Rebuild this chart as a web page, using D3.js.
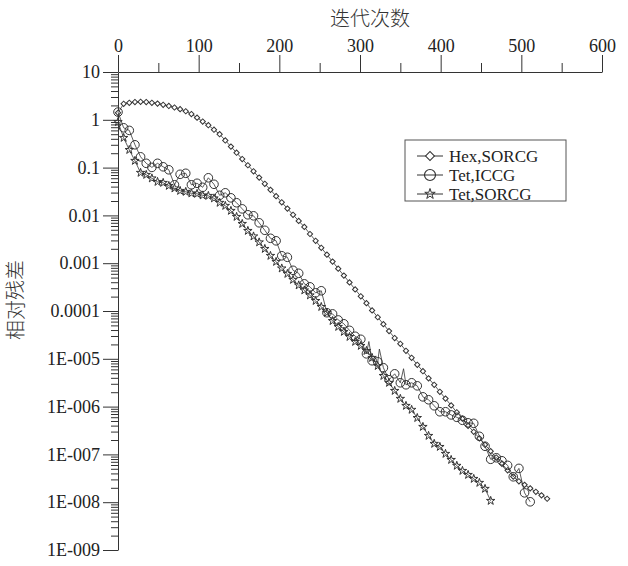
<!DOCTYPE html>
<html>
<head>
<meta charset="utf-8">
<script src="https://cdn.jsdelivr.net/npm/d3@7"></script>
<style>
  body { margin: 0; background: #fff; }
</style>
</head>
<body>
<svg id="chart" width="628" height="566"></svg>
<script>
// iterations (every 7th)
var iters = [0, 7, 14, 21, 28, 35, 42, 49, 56, 63, 70, 77, 84, 91, 98, 105, 112, 119, 126, 133,
  140, 147, 154, 161, 168, 175, 182, 189, 196, 203, 210, 217, 224, 231, 238, 245, 252, 259, 266, 273,
  280, 287, 294, 301, 308, 315, 322, 329, 336, 343, 350, 357, 364, 371, 378, 385, 392, 399, 406, 413,
  420, 427, 434, 441, 448, 455, 462, 469, 476, 483, 490, 497, 504, 511, 518, 525, 532];

var hexVal = [1.40, 2.16, 2.27, 2.35, 2.38, 2.35, 2.27, 2.18, 2.06, 1.95, 1.81, 1.67, 1.51, 1.32, 1.11,
  0.92, 0.77, 0.62, 0.50, 0.37, 0.275, 0.205, 0.151, 0.112, 0.0837, 0.0618, 0.0458, 0.0342, 0.0253,
  0.0188, 0.0139, 0.0103, 0.00767, 0.00574, 0.00408, 0.00294, 0.00210, 0.00151, 0.00108, 7.7e-4,
  5.5e-4, 3.96e-4, 2.83e-4, 2.03e-4, 1.46e-4, 1.03e-4, 7.4e-5, 5.3e-5, 3.8e-5, 2.72e-5, 2.06e-5,
  1.47e-5, 1.05e-5, 7.5e-6, 5.5e-6, 3.9e-6, 2.86e-6, 2.04e-6, 1.47e-6, 1.06e-6, 7.6e-7, 5.6e-7,
  3.96e-7, 2.97e-7, 2.17e-7, 1.59e-7, 1.17e-7, 8.6e-8, 6.35e-8, 4.65e-8, 3.43e-8, 2.74e-8, 2.31e-8,
  1.95e-8, 1.65e-8, 1.39e-8, 1.18e-8];

var iccgVal = [1.45, 0.68, 0.60, 0.30, 0.168, 0.123, 0.101, 0.123, 0.104, 0.090, 0.0437, 0.0724,
  0.076, 0.0437, 0.047, 0.0387, 0.0612, 0.0448, 0.0263, 0.0297, 0.0233, 0.0184, 0.0137, 0.0103,
  0.0098, 0.0070, 0.00488, 0.00332, 0.00294, 0.00143, 0.00133, 7.1e-4, 6.15e-4, 3.7e-4, 3.2e-4,
  2.40e-4, 2.65e-4, 9.2e-5, 8.7e-5, 6.5e-5, 5.4e-5, 3.94e-5, 2.96e-5, 2.56e-5, 1.27e-5, 9.1e-6,
  8.65e-6, 6.5e-6, 3.64e-6, 4.85e-6, 3.15e-6, 2.86e-6, 3.15e-6, 2.72e-6, 1.60e-6, 1.39e-6, 1.04e-6,
  7.8e-7, 7.8e-7, 6.7e-7, 5.97e-7, 5.17e-7, 4.58e-7, 4.47e-7, 2.39e-7, 1.48e-7, 7.9e-8, 8.5e-8,
  7.35e-8, 5.9e-8, 3.4e-8, 5.1e-8, 1.57e-8, 1.02e-8];

// thin spikes of the ICCG line between markers
var iccgSpikes = [[311, 2.3e-5], [324, 1.6e-5], [354, 6.2e-6]];

var tetVal = [0.9, 0.42, 0.235, 0.139, 0.078, 0.0707, 0.0597, 0.0504, 0.0481, 0.0416, 0.0369, 0.0327,
  0.0312, 0.029, 0.0283, 0.0263, 0.0257, 0.0228, 0.0184, 0.0159, 0.0125, 0.00935, 0.00667, 0.00476,
  0.00365, 0.00274, 0.0020, 0.00143, 0.00107, 7.8e-4, 6.0e-4, 4.5e-4, 3.45e-4, 2.71e-4, 2.13e-4,
  1.63e-4, 1.22e-4, 9.2e-5, 6.2e-5, 4.67e-5, 3.67e-5, 2.88e-5, 2.27e-5, 1.87e-5, 1.47e-5, 1.05e-5,
  7.1e-6, 4.4e-6, 3.15e-6, 2.14e-6, 1.46e-6, 1.04e-6, 8.6e-7, 5.8e-7, 3.78e-7, 2.45e-7, 1.67e-7,
  1.44e-7, 1.03e-7, 7.7e-8, 5.8e-8, 4.54e-8, 3.74e-8, 3.09e-8, 2.55e-8, 1.91e-8, 1.07e-8];

var seriesNames = ["Hex,SORCG", "Tet,ICCG", "Tet,SORCG"];
var xTicks = [0, 100, 200, 300, 400, 500, 600];
var xMinor = [50, 150, 250, 350, 450, 550];
var yTicks = [10, 1, 0.1, 0.01, 0.001, 0.0001, 1e-5, 1e-6, 1e-7, 1e-8, 1e-9];
var yLabels = ["10", "1", "0.1", "0.01", "0.001", "0.0001", "1E-005", "1E-006", "1E-007", "1E-008", "1E-009"];

var svg = d3.select("#chart");
var ink = "#333";
var serif = "'Liberation Serif', 'Times New Roman', serif";

var x = d3.scaleLinear().domain([0, 600]).range([118, 602]);
var y = d3.scaleLog().domain([1e-9, 10]).range([550, 72]);

// top x axis
svg.append("g")
  .attr("class", "axis")
  .attr("transform", "translate(0,72)")
  .call(d3.axisTop(x).tickValues(xTicks).tickSize(17).tickSizeOuter(0).tickPadding(3));
svg.append("g")
  .attr("transform", "translate(0,72)")
  .call(d3.axisTop(x).tickValues(xMinor).tickSize(9).tickFormat(""))
  .select(".domain").remove();

// left log axis
var yMinor = [];
yTicks.slice(1).forEach(function(t) {
  for (var m = 2; m <= 9; m++) yMinor.push(t * m);
});
svg.append("g")
  .attr("class", "axis")
  .attr("transform", "translate(118,0)")
  .call(d3.axisLeft(y).tickValues(yTicks).tickSize(15).tickSizeOuter(0).tickPadding(3)
    .tickFormat(function(d, i) { return yLabels[i]; }));
svg.append("g")
  .attr("transform", "translate(118,0)")
  .call(d3.axisLeft(y).tickValues(yMinor).tickSize(7).tickFormat(""))
  .select(".domain").remove();

svg.selectAll(".domain, .tick line").attr("stroke", ink);
svg.selectAll(".axis")
  .attr("font-family", null).attr("font-size", null);
svg.selectAll(".axis .tick text")
  .style("font-family", serif)
  .style("font-size", "18px")
  .attr("fill", "#222");

// axis titles
svg.append("text")
  .attr("x", 370).attr("y", 26)
  .attr("text-anchor", "middle")
  .style("font-family", "'Noto Sans CJK SC', sans-serif")
  .style("font-size", "20px").style("font-weight", 300)
  .attr("fill", ink)
  .text("迭代次数");
svg.append("text")
  .attr("transform", "translate(23,300) rotate(-90)")
  .attr("text-anchor", "middle")
  .style("font-family", "'Noto Sans CJK SC', sans-serif")
  .style("font-size", "20px").style("font-weight", 300)
  .attr("fill", ink)
  .text("相对残差");

function pairs(vals) {
  return vals.map(function(v, i) { return [iters[i], v]; });
}
var hex = pairs(hexVal);
var iccg = pairs(iccgVal);
var tet = pairs(tetVal);
var iccgLine = iccg.concat(iccgSpikes).sort(function(a, b) { return a[0] - b[0]; });

var line = d3.line()
  .x(function(d) { return x(d[0]); })
  .y(function(d) { return y(d[1]); });

var diamond = d3.symbol(d3.symbolSquare, 14);
var star = d3.symbol(d3.symbolStar, 22);

function drawLine(data) {
  svg.append("path").datum(data)
    .attr("d", line)
    .attr("fill", "none")
    .attr("stroke", ink)
    .attr("stroke-width", 0.8);
}

drawLine(hex);
svg.append("g").selectAll("path").data(hex).enter().append("path")
  .attr("d", diamond)
  .attr("transform", function(d) { return "translate(" + x(d[0]) + "," + y(d[1]) + ") rotate(45)"; })
  .attr("fill", "#fff").attr("stroke", ink).attr("stroke-width", 1);

drawLine(iccgLine);
svg.append("g").selectAll("circle").data(iccg).enter().append("circle")
  .attr("cx", function(d) { return x(d[0]); })
  .attr("cy", function(d) { return y(d[1]); })
  .attr("r", 4.3)
  .attr("fill", "none").attr("stroke", ink).attr("stroke-width", 1);

drawLine(tet);
svg.append("g").selectAll("path").data(tet).enter().append("path")
  .attr("d", star)
  .attr("transform", function(d) { return "translate(" + x(d[0]) + "," + y(d[1]) + ")"; })
  .attr("fill", "none").attr("stroke", ink).attr("stroke-width", 1);

// legend
var lg = svg.append("g");
lg.append("rect")
  .attr("x", 405).attr("y", 140).attr("width", 161).attr("height", 61)
  .attr("fill", "#fff").attr("stroke", "#555").attr("stroke-width", 1);
var rowY = [156, 175, 194];
seriesNames.forEach(function(name, i) {
  var yy = rowY[i];
  lg.append("line").attr("x1", 417).attr("x2", 443).attr("y1", yy).attr("y2", yy)
    .attr("stroke", ink).attr("stroke-width", 1);
  if (i === 0) {
    lg.append("path").attr("d", d3.symbol(d3.symbolSquare, 40))
      .attr("transform", "translate(430," + yy + ") rotate(45)")
      .attr("fill", "#fff").attr("stroke", ink);
  } else if (i === 1) {
    lg.append("circle").attr("cx", 430).attr("cy", yy).attr("r", 5.5)
      .attr("fill", "none").attr("stroke", ink).attr("stroke-width", 1.2);
  } else {
    lg.append("path").attr("d", d3.symbol(d3.symbolStar, 34))
      .attr("transform", "translate(430," + yy + ")")
      .attr("fill", "none").attr("stroke", ink);
  }
  lg.append("text").attr("x", 449).attr("y", yy + 6)
    .style("font-family", serif).style("font-size", "17px")
    .attr("fill", "#222")
    .text(name);
});
</script>
</body>
</html>
